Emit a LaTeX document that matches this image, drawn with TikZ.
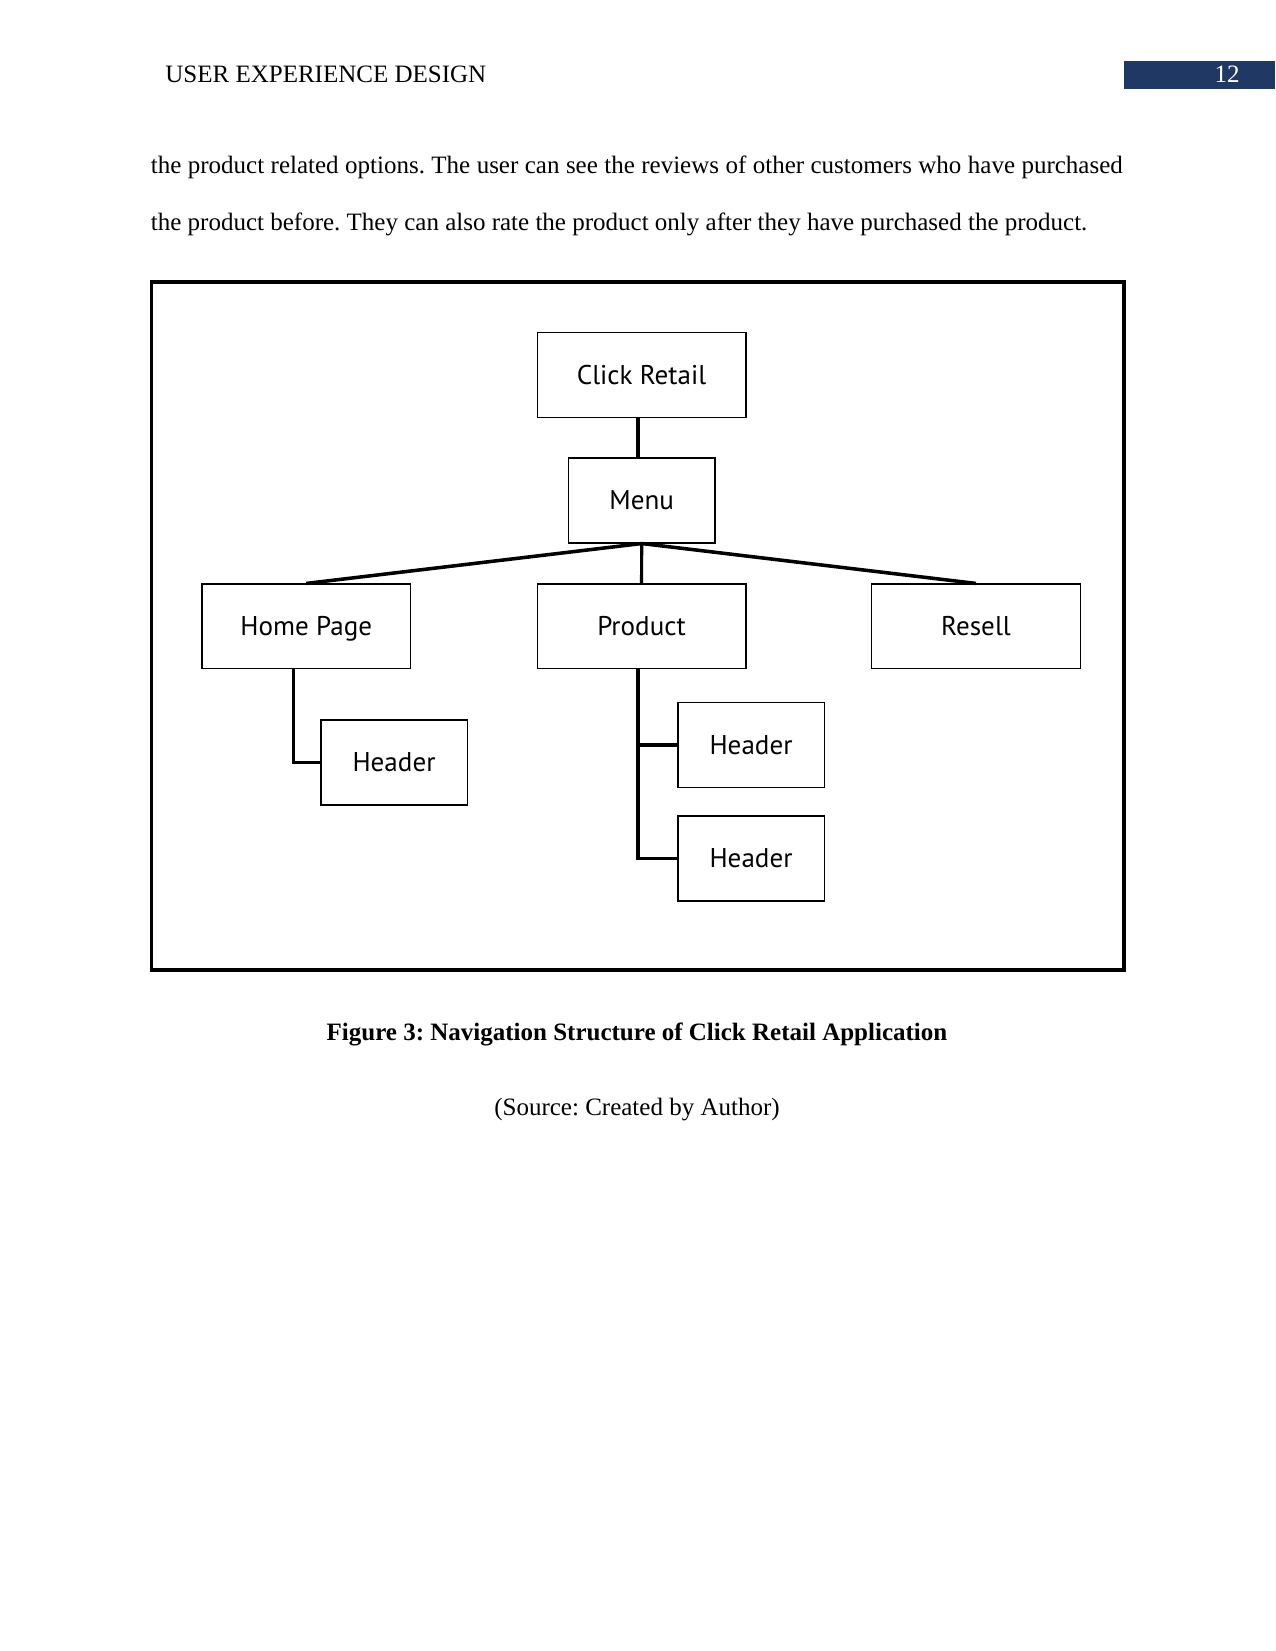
\documentclass[tikz,border=0pt]{standalone}
\usepackage{fontspec}
\setmainfont{Liberation Serif}
\newfontfamily\boxfont{PT Sans}
\frenchspacing
\definecolor{navy}{RGB}{31,56,100}
\begin{document}
\begin{tikzpicture}[x=0.48pt,y=-0.48pt,
  box/.style={draw,line width=0.6pt,inner sep=0pt,text height=9pt,text depth=0pt,
    font=\boxfont\fontsize{13}{15}\selectfont},
  wide/.style={box,minimum width=100.2pt,minimum height=40.5pt},
  small/.style={box,minimum width=70.2pt,minimum height=40.7pt},
  conn/.style={line width=1.5pt},
  diag/.style={line width=1.7pt},
  txt/.style={inner sep=0pt,font=\fontsize{12}{14}\selectfont}]
\useasboundingbox (0,0) rectangle (1275,1651);
% running head
\node[txt,anchor=base west] (head) at (165,83) {USER EXPERIENCE DESIGN};
\fill[navy] (1124,61) rectangle (1275,89);
\node[txt,anchor=base,text=white] (pg) at (1227,83) {12};
% body text
\node[txt,anchor=base west] (l1) at (150.5,173.5) {\makebox[466.5pt][s]{the product related options. The user can see the reviews of other customers who have purchased}};
\node[txt,anchor=base west] (l2) at (150.5,230.5) {the product before. They can also rate the product only after they have purchased the product.};
% frame
\draw[line width=1.5pt] (151.6,282) rectangle (1124,970);
% boxes
\node[wide] (cr) at (641.5,375) {Click Retail};
\node[small] (menu) at (641.75,500.5) {Menu};
\node[wide] (home) at (306.3,626.25) {Home Page};
\node[wide] (prod) at (641.5,626.25) {Product};
\node[wide] (resell) at (976,626.25) {Resell};
\node[small] (h1) at (394,762.5) {Header};
\node[small] (h2) at (751,745.25) {Header};
\node[small] (h3) at (751,858.5) {Header};
% connectors
\coordinate (cv) at (638,0);
\coordinate (hv) at (293.7,0);
\coordinate (pv) at (638,0);
\draw[conn] (cr.south -| cv) -- (menu.north -| cv);
\draw[diag] (menu.south) -- (home.north);
\draw[diag] (menu.south) -- (resell.north);
\draw[conn] (menu.south) -- (prod.north);
\draw[conn] (home.south -| hv) |- (h1.west);
\draw[conn] (prod.south -| pv) |- (h3.west);
\draw[conn,line width=1.8pt] (pv |- h2.west) -- (h2.west);
% caption
\node[txt,anchor=base,font=\bfseries\fontsize{12}{14}\selectfont] (cap) at (637,1040) {Figure 3: Navigation Structure of Click Retail Application};
\node[txt,anchor=base] (src) at (637,1115) {(Source: Created by Author)};
\end{tikzpicture}
\end{document}
